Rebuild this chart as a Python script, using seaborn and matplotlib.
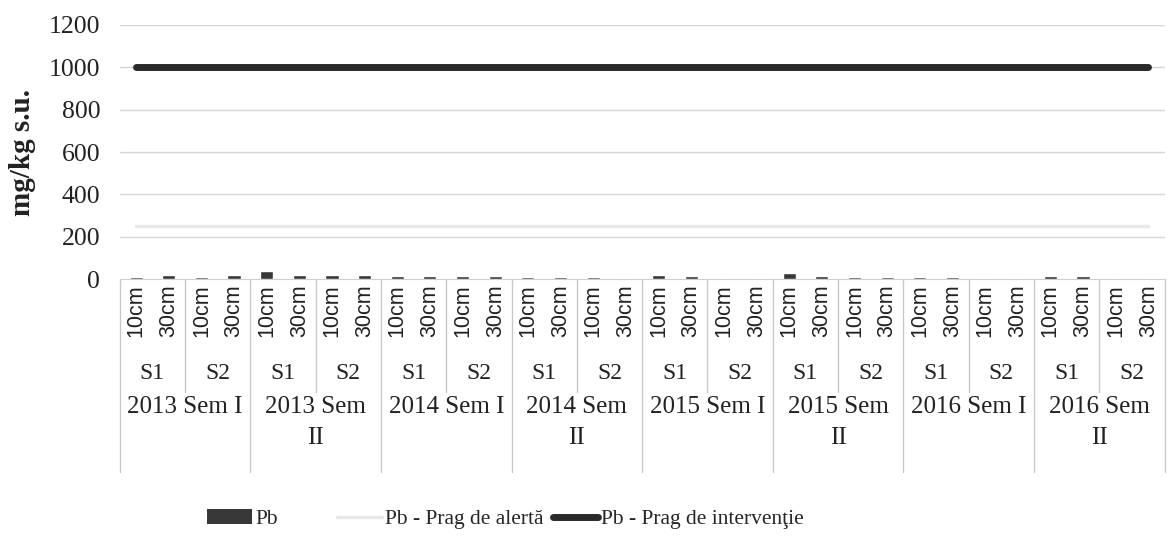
import matplotlib
matplotlib.use("Agg")
import matplotlib.pyplot as plt
from matplotlib.patches import Patch
from matplotlib.lines import Line2D
import seaborn as sns
import pandas as pd
import numpy as np

# --- data ---
perioade = ["2013 Sem I", "2013 Sem II", "2014 Sem I", "2014 Sem II",
            "2015 Sem I", "2015 Sem II", "2016 Sem I", "2016 Sem II"]
statii = ["S1", "S2"]
adancimi = ["10cm", "30cm"]
pb = [10, 20, 10, 18,
      38, 18, 18, 18,
      14, 14, 16, 16,
      12, 12, 12, 6,
      20, 14, 8, 8,
      30, 16, 12, 12,
      12, 12, 5, 5,
      14, 14, 8, 8]
prag_alerta = 250
prag_interventie = 1000
yticks = [0, 200, 400, 600, 800, 1000, 1200]

rows = []
for p in perioade:
    for s in statii:
        for d in adancimi:
            rows.append({"perioada": p, "statie": s, "adancime": d})
df = pd.DataFrame(rows)
df["pb"] = pb
df["cat"] = [f"{r.perioada}|{r.statie}|{r.adancime}" for r in df.itertuples()]
n = len(df)

sns.set_style("white")
plt.rcParams['font.family'] = ['Liberation Serif', 'DejaVu Serif']

fig = plt.figure(figsize=(11.74, 5.54), dpi=100)
ax = fig.add_axes([0.102, 0.496, 0.890, 0.459])

ax.set_ylim(0, 1200)
ax.set_xlim(-0.5, n - 0.5)
for y in yticks[1:]:
    ax.axhline(y, color="#d6d6d6", lw=1, zorder=0)

sns.barplot(data=df, x="cat", y="pb", color="#383838", width=0.4,
            saturation=1, ax=ax, zorder=3)

xs = np.arange(n)
ax.plot(xs, [prag_alerta] * n, color="#e8e8e8", lw=2.5, zorder=2)
ax.plot(xs, [prag_interventie] * n, color="#2a2a2a", lw=5,
        solid_capstyle="round", zorder=4)

for sp in ["top", "right", "left"]:
    ax.spines[sp].set_visible(False)
ax.spines["bottom"].set_color("#cfcfcf")
ax.set_yticks(yticks)
ax.set_yticklabels([str(v) for v in yticks], fontsize=18.5, color="#222222")
ax.tick_params(axis="y", length=0, pad=14)
ax.set_xticks([])
ax.set_xlabel("")
ax.set_ylabel("")
fig.text(22 / 1174, 1 - 152 / 554, "mg/kg s.u.", rotation=90, ha="center",
         va="center", fontsize=21, fontweight="bold", color="#222222")

# multi-level category axis
tr = ax.get_xaxis_transform()
for i, r in enumerate(df.itertuples()):
    ax.text(i, -0.02, r.adancime, rotation=90, ha="center", va="top",
            fontsize=15.5, family=["Liberation Sans", "DejaVu Sans"],
            transform=tr, color="#222222")
for k in range(n // 2):
    ax.text(2 * k + 0.5, -0.37, df["statie"].iloc[2 * k], ha="center",
            va="center", fontsize=17, transform=tr, color="#222222")
for g, p in enumerate(perioade):
    lab = p if not p.endswith(" II") else p[:-3] + "\n" + "II"
    ax.text(4 * g + 1.5, -0.46, lab, ha="center", va="top", fontsize=18,
            linespacing=1.5, transform=tr, color="#222222")

for b in range(0, n + 1, 2):
    y1 = -0.76 if b % 4 == 0 else -0.445
    ax.plot([b - 0.5, b - 0.5], [0, y1], color="#c8c8c8", lw=1,
            transform=tr, clip_on=False)

# legend, one entry at a time so the spacing follows the original
entries = [(Patch(facecolor="#383838", edgecolor="none"), "Pb", 207),
           (Line2D([], [], color="#e8e8e8", lw=2.5), "Pb - Prag de alertă", 337),
           (Line2D([], [], color="#2a2a2a", lw=5), "Pb - Prag de intervenţie", 553)]
for h, lab, xpx in entries:
    fig.legend([h], [lab], loc="center left",
               bbox_to_anchor=(xpx / 1174, 1 - 519 / 554),
               frameon=False, fontsize=15.5, handlelength=2.1,
               handletextpad=0.15, borderpad=0, borderaxespad=0)

fig.savefig("out.png", dpi=100)
